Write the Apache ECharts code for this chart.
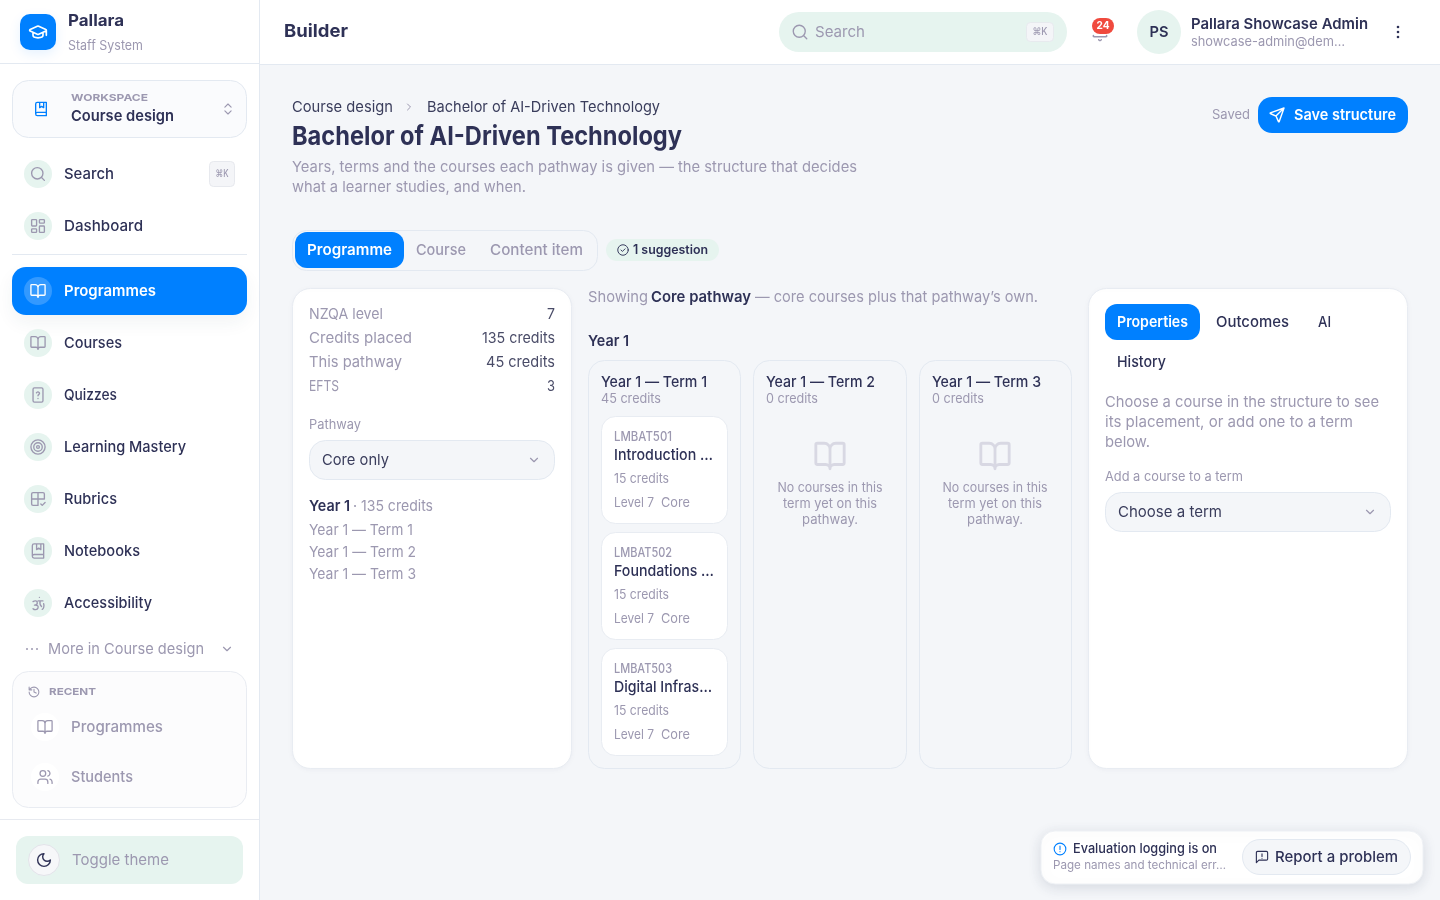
<!DOCTYPE html>
<html><head><meta charset="utf-8"><title>Builder</title>
<style>html,body{margin:0;padding:0;background:#f4f6f9}#c{width:1440px;height:900px}</style>
<script src="https://cdn.jsdelivr.net/npm/echarts@6/dist/echarts.min.js"></script>
</head><body><div id="c"></div>
<script>
const navTop = ['Search','Dashboard'];
const navActive = 'Programmes';
const navItems = ['Courses','Quizzes','Learning Mastery','Rubrics','Notebooks','Accessibility'];
const navWidths = [58,53,122,53,76,88];
const recentItems = ['Programmes','Students'];
const statLabels = ['NZQA level','Credits placed','This pathway','EFTS'];
const statValues = ['7','135 credits','45 credits','3'];
const termLabels = ['Year 1 — Term 1','Year 1 — Term 2','Year 1 — Term 3'];
const termCredits = ['45 credits','0 credits','0 credits'];
const courseCodes = ['LMBAT501','LMBAT502','LMBAT503'];
const courseNames = ['Introduction …','Foundations …','Digital Infras…'];
const courseNameWidths = [99,100,98];
const courseCredits = ['15 credits','15 credits','15 credits'];
const emptyLines = ['No courses in this','term yet on this','pathway.'];
const topTabs = ['Programme','Course','Content item'];
const sideTabs = ['Properties','Outcomes','AI','History'];
const helpLines = ['Choose a course in the structure to see','its placement, or add one to a term','below.'];

const INK='#2e3156', MUTE='#9c98b0', BLUE='#0080ff', MINT='#e6f4ef', LINE='#e3e9f1', BG='#f4f6f9';
const FONT='Inter';
const ctx=document.createElement('canvas').getContext('2d');
const els=[];
function T(s,x,y,size,weight,color,o){o=o||{};
  ctx.font=weight+' '+size+'px '+FONT;
  const m=ctx.measureText(s).width;
  const sx=o.w?o.w/m:1.09;
  els.push({type:'text',silent:true,x:x,y:y+0.5,scaleX:sx,style:{text:s,x:0,y:0,font:weight+' '+size+'px '+FONT,fill:color,textAlign:o.a||'left',textVerticalAlign:'middle',verticalAlign:'middle'}});
}
function R(x,y,w,h,r,fill,stroke,o){o=o||{};
  els.push({type:'rect',silent:true,shape:{x:x,y:y,width:w,height:h,r:r},style:Object.assign({fill:fill,stroke:stroke||'none',lineWidth:1},o)});
}
function C(x,y,r,fill,stroke){els.push({type:'circle',silent:true,shape:{cx:x,cy:y,r:r},style:{fill:fill,stroke:stroke||'none',lineWidth:1}});}
function L(x1,y1,x2,y2,c){els.push({type:'line',silent:true,shape:{x1:x1,y1:y1,x2:x2,y2:y2},style:{stroke:c,lineWidth:1}});}
const ICON={
 book:'M12 7v14 M3 18a1 1 0 0 1-1-1V4a1 1 0 0 1 1-1h5a4 4 0 0 1 4 4 4 4 0 0 1 4-4h5a1 1 0 0 1 1 1v13a1 1 0 0 1-1 1h-6a3 3 0 0 0-3 3 3 3 0 0 0-3-3z',
 search:'M21 21l-4.3-4.3 M19 11a8 8 0 1 1-16 0 8 8 0 0 1 16 0z',
 dash:'M4 3h5a1 1 0 0 1 1 1v7a1 1 0 0 1-1 1H4a1 1 0 0 1-1-1V4a1 1 0 0 1 1-1z M15 3h5a1 1 0 0 1 1 1v3a1 1 0 0 1-1 1h-5a1 1 0 0 1-1-1V4a1 1 0 0 1 1-1z M15 12h5a1 1 0 0 1 1 1v7a1 1 0 0 1-1 1h-5a1 1 0 0 1-1-1v-7a1 1 0 0 1 1-1z M4 16h5a1 1 0 0 1 1 1v3a1 1 0 0 1-1 1H4a1 1 0 0 1-1-1v-3a1 1 0 0 1 1-1z',
 cap:'M21.42 10.92a1 1 0 0 0-.02-1.84L12.83 5.18a2 2 0 0 0-1.66 0L2.6 9.08a1 1 0 0 0 0 1.83l8.57 3.91a2 2 0 0 0 1.66 0z M22 10v6 M6 12.5V16a6 3 0 0 0 12 0v-3.5',
 bookmark:'M4 19.5A2.5 2.5 0 0 1 6.5 17H20 M6.5 2H20v20H6.5A2.5 2.5 0 0 1 4 19.5v-15A2.5 2.5 0 0 1 6.5 2z M10 2v8l3-2 3 2V2',
 updown:'M7 9l5-5 5 5 M7 15l5 5 5-5',
 quiz:'M7 2h10a2 2 0 0 1 2 2v16a2 2 0 0 1-2 2H7a2 2 0 0 1-2-2V4a2 2 0 0 1 2-2z M9.8 9a2.3 2.3 0 0 1 4.4 .7c0 1.5-2.2 2-2.2 3.3 M12 17h.01',
 target:'M22 12a10 10 0 1 1-20 0 10 10 0 0 1 20 0z M18 12a6 6 0 1 1-12 0 6 6 0 0 1 12 0z M14 12a2 2 0 1 1-4 0 2 2 0 0 1 4 0z',
 rubric:'M12 3v18 M3 12h18 M5 3h14a2 2 0 0 1 2 2v7 M12 21H5a2 2 0 0 1-2-2V5a2 2 0 0 1 2-2 M16 19l2 2 4-4',
 access:'M14 4h.01 M5 10c3-2 6-1 6 2s-3 3-4 3 M8 15c3 0 5 1 4 4s-5 3-7 1 M12 9h7 M15 9c-1 4 1 7 2 8 M20 13c1 3 0 7-2 8',
 chev:'M6 9l6 6 6-6',
 history:'M3 12a9 9 0 1 0 9-9 9.75 9.75 0 0 0-6.74 2.74L3 8 M3 3v5h5 M12 7v5l4 2',
 users:'M16 21v-2a4 4 0 0 0-4-4H6a4 4 0 0 0-4 4v2 M13 7a4 4 0 1 1-8 0 4 4 0 0 1 8 0z M22 21v-2a4 4 0 0 0-3-3.87 M16 3.13a4 4 0 0 1 0 7.75',
 moon:'M12 3a6 6 0 0 0 9 9 9 9 0 1 1-9-9z',
 bell:'M10.3 21a1.9 1.9 0 0 0 3.4 0 M3.3 15.3A1 1 0 0 0 4 17h16a1 1 0 0 0 .7-1.7',
 send:'M21.9 2.1L15 21.4a.5.5 0 0 1-.9 0l-3.6-7.9-7.9-3.6a.5.5 0 0 1 0-.9z M21.9 2.1L10.5 13.5',
 check:'M21 12a9 9 0 1 1-18 0 9 9 0 0 1 18 0z M8.5 12l2.5 2.5 4.5-4.5',
 info:'M22 12a10 10 0 1 1-20 0 10 10 0 0 1 20 0z M12 7v6 M12 16.5h.01',
 msg:'M21 15a2 2 0 0 1-2 2H7l-4 4V5a2 2 0 0 1 2-2h14a2 2 0 0 1 2 2z M12 7v4 M12 14h.01',
 caret:'M9 6l6 6-6 6'
};
Object.keys(ICON).forEach(function(k){
  echarts.graphic.registerShape('ic_'+k, echarts.graphic.extendPath(ICON[k],{}));
  ICON[k]='ic_'+k;
});
function I(d,cx,cy,size,color,lw){const k=size/24;
  els.push({type:d,silent:true,x:cx-size/2,y:cy-size/2,scaleX:k,scaleY:k,style:{fill:'none',stroke:color,lineWidth:lw||2,lineCap:'round',lineJoin:'round'}});}

/* page frame */
R(0,0,1440,900,0,BG);
R(0,0,259.5,900,0,'#ffffff');
L(259.5,0,259.5,900,LINE);
R(260,0,1180,64.5,0,'#ffffff');
L(260,64.5,1440,64.5,LINE);
L(0,63.5,259,63.5,LINE);

/* brand */
R(20,14,36,36,10,BLUE,null,{shadowBlur:12,shadowColor:'rgba(0,128,255,.10)',shadowOffsetY:4});
I(ICON.cap,38,32,20,'#fff',2);
T('Pallara',68,21,16,700,INK,{w:56});
T('Staff System',68,46,13,400,MUTE,{w:75});

/* workspace */
R(12.5,80.5,234,57,16,'#fafbfd',LINE);
I(ICON.bookmark,41,109,16,BLUE,2);
T('WORKSPACE',71,97.5,9.5,700,MUTE,{w:77});
T('Course design',71,116,15,600,INK,{w:103});
I(ICON.updown,228,109,15,MUTE,1.8);

/* nav */
[[navTop[0],174,ICON.search,50],[navTop[1],226,ICON.dash,79]].forEach(function(a){
  C(38,a[1],14,MINT); I(a[2],38,a[1],17,MUTE,1.9); T(a[0],64,a[1],15,500,INK,{w:a[3]});
});
R(209.5,161.5,25,25,4,'#f4f5f8','#e7e9ee');
T('⌘K',222,173.5,10,500,MUTE,{w:13,a:'center'});
L(12,254.5,247,254.5,LINE);
R(12,267,235,48,14,BLUE,null,{shadowBlur:18,shadowColor:'rgba(40,60,90,.06)',shadowOffsetY:8});
C(38,291,14,'rgba(255,255,255,.2)');
I(ICON.book,38,291,17,'#fff',1.9);
T(navActive,64,291,15,600,'#fff',{w:92});
const navIcons=[ICON.book,ICON.quiz,ICON.target,ICON.rubric,ICON.bookmark,ICON.access];
navItems.forEach(function(s,i){const y=343+52*i;
  C(38,y,14,MINT); I(navIcons[i],38,y,17,MUTE,1.9); T(s,64,y,15,500,INK,{w:navWidths[i]});
});
C(27,649,1,MUTE);C(32,649,1,MUTE);C(37,649,1,MUTE);
T('More in Course design',48,649,15,400,MUTE,{w:156});
I(ICON.chev,227,649,14,MUTE,2);

/* recent */
R(12.5,671.5,234,136,16,'#fcfcfd','#e9ecf2');
I(ICON.history,34,692,13,MUTE,2);
T('RECENT',49,691.5,9.5,700,MUTE,{w:47});
C(45,727,14,'#fff'); I(ICON.book,45,727,17,MUTE,1.8); T(recentItems[0],71,727,15,500,MUTE,{w:92});
C(45,777,14,'#fff'); I(ICON.users,45,777,17,MUTE,1.8); T(recentItems[1],71,777,15,500,MUTE,{w:62});

/* theme */
L(0,819.5,259,819.5,'#e7eaf0');
R(16,836,227,48,12,MINT);
C(44,860,15.5,'#f6f7f9','#e3e3ea');
I(ICON.moon,44,860,17,INK,2);
T('Toggle theme',72,860,15,400,MUTE,{w:97});

/* header */
T('Builder',284,31,18,700,INK,{w:64});
R(779,12,288,40,20,MINT);
I(ICON.search,800,32,18,MUTE,1.8);
T('Search',815,32,15,400,MUTE,{w:50});
R(1026.5,22.5,27,19,4,'#f4f5f8','#e7eaee');
T('⌘K',1040,31.5,10,500,MUTE,{w:15,a:'center'});
I(ICON.bell,1100,33,18,MUTE,2);
R(1092,18,22,16,8,'#f04a3e');
T('24',1103,25.5,11,700,'#fff',{w:13,a:'center'});
C(1159,32,22,MINT);
T('PS',1159,31.5,15,600,INK,{w:19,a:'center'});
T('Pallara Showcase Admin',1191,24,15,600,INK,{w:177});
T('showcase-admin@dem…',1191,42,13,400,MUTE,{w:154});
C(1398,27,1.3,INK);C(1398,32,1.3,INK);C(1398,37,1.3,INK);

/* page head */
T('Course design',292,107,15,400,'#3a3d5c',{w:101});
I(ICON.caret,409,107,12,MUTE,2);
T('Bachelor of AI-Driven Technology',427,107,15,400,'#3a3d5c',{w:233});
T('Bachelor of AI-Driven Technology',292,137,26,700,INK,{w:390});
T('Years, terms and the courses each pathway is given — the structure that decides',292,167,15,400,MUTE,{w:565});
T('what a learner studies, and when.',292,187,15,400,MUTE,{w:234});
T('Saved',1212,115,13,400,MUTE,{w:38});
R(1258,97,150,36,14,BLUE);
I(ICON.send,1277,115,17,'#fff',2);
T('Save structure',1294,115,15,600,'#fff',{w:102});

/* tabs */
R(292.5,230.5,305,40,14,BG,LINE);
R(295,232,109,36,12,BLUE);
T(topTabs[0],307,250,15,600,'#fff',{w:85});
T(topTabs[1],416,250,15,500,MUTE,{w:50});
T(topTabs[2],490,250,15,500,MUTE,{w:93});
R(606,239,113,22,11,MINT);
I(ICON.check,623,250,14,INK,1.6);
T('1 suggestion',633,249.5,12.5,600,INK,{w:75});

/* left card */
R(292.5,288.5,279,480,18,'#fff','#e8ecf2',{shadowBlur:6,shadowColor:'rgba(40,60,90,.04)',shadowOffsetY:1});
const statW=[74,103,93,30];
statLabels.forEach(function(s,i){const y=314+24*i;
  T(s,309,y,15,400,MUTE,{w:statW[i]});
  T(statValues[i],555,y,15,400,'#4a4c68',{a:'right',w:[8,73,69,8][i]});
});
T('Pathway',309,425,13,400,MUTE,{w:52});
R(309.5,440.5,245,39,16,BG,LINE);
T('Core only',322,460,15,400,'#3a3d5c',{w:67});
I(ICON.chev,534,460,14,MUTE,2);
T('Year 1',309,506,15,600,INK,{w:41});
T('· 135 credits',353,506,15,400,MUTE,{w:80});
termLabels.forEach(function(s,i){T(s,309,530+22*i,15,400,MUTE,{w:104+(i?3:0)});});

/* middle */
T('Showing',588,297,15,400,MUTE,{w:60});
T('Core pathway',651,297,15,600,INK,{w:100});
T('— core courses plus that pathway’s own.',755,297,15,400,MUTE,{w:283});
T('Year 1',588,341,15,600,INK,{w:41});
[[588.5,152,601],[753.5,153,766],[919.5,152,932]].forEach(function(c,i){
  R(c[0],360.5,c[1],408,16,BG,LINE);
  T(termLabels[i],c[2],382,15,500,INK,{w:106+(i?3:0)});
  T(termCredits[i],c[2],399,13,400,MUTE,{w:i?52:60});
});
courseCodes.forEach(function(code,i){const top=416+116*i;
  R(601.5,top+.5,126,107,14,'#fff','#e8ecf2');
  T(code,614,top+21,12.5,500,MUTE,{w:58});
  T(courseNames[i],614,top+39,15,500,INK,{w:courseNameWidths[i]});
  T(courseCredits[i],614,top+63,13,400,MUTE,{w:55});
  T('Level 7',614,top+87,13,400,MUTE,{w:40});
  T('Core',661,top+87,13,400,MUTE,{w:29});
});
[830,995].forEach(function(cx){
  I(ICON.book,cx,456,34,'#d8d8e3',2);
  emptyLines.forEach(function(s,i){T(s,cx,488+16*i,13,400,MUTE,{a:'center',w:[105,94,56][i]});});
});

/* right card */
R(1088.5,288.5,319,480,18,'#fff','#e8ecf2',{shadowBlur:6,shadowColor:'rgba(40,60,90,.04)',shadowOffsetY:1});
R(1105,304,95,36,12,BLUE);
T(sideTabs[0],1117,322,15,600,'#fff',{w:71});
T(sideTabs[1],1216,322,15,500,INK,{w:73});
T(sideTabs[2],1318,322,15,500,INK,{w:13});
T(sideTabs[3],1117,362,15,500,INK,{w:49});
helpLines.forEach(function(s,i){T(s,1105,402+20*i,15,400,MUTE,{w:[274,248,45][i]});});
T('Add a course to a term',1105,477,13,400,MUTE,{w:138});
R(1105.5,492.5,285,39,16,BG,LINE);
T('Choose a term',1118,512,15,400,'#3a3d5c',{w:104});
I(ICON.chev,1370,512,14,MUTE,2);

/* footer widget */
R(1041,831,382,53,14,'#fff','#eef1f5',{shadowBlur:14,shadowColor:'rgba(40,60,90,.14)',shadowOffsetY:3});
I(ICON.info,1060,849,14,BLUE,1.9);
T('Evaluation logging is on',1073,849,13,500,INK,{w:144});
T('Page names and technical err…',1053,865,11.5,400,MUTE,{w:173});
R(1242.5,839.5,168,35,17.5,BG,LINE);
I(ICON.msg,1262,857,15,INK,1.8);
T('Report a problem',1275,857,15,500,INK,{w:123});

const chart=echarts.init(document.getElementById('c'),null,{renderer:'canvas',width:1440,height:900});
chart.setOption({animation:false,graphic:{elements:els}});
</script></body></html>
